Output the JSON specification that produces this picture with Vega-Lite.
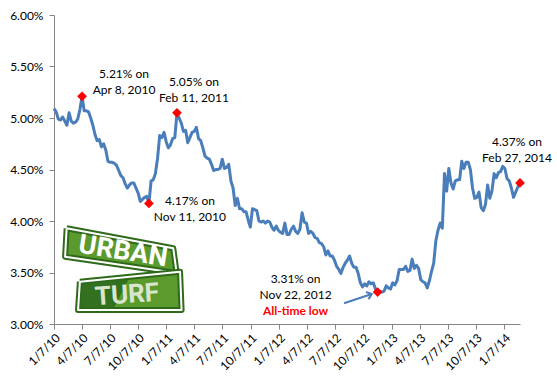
{
  "$schema": "https://vega.github.io/schema/vega-lite/v6.json",
  "width": 466,
  "height": 309,
  "autosize": {"type": "none"},
  "padding": {"left": 54, "top": 15, "right": 37, "bottom": 60},
  "background": "white",
  "config": {
    "view": {"stroke": null},
    "font": "Lato",
    "axis": {
      "grid": false,
      "title": null,
      "domainColor": "#868686",
      "tickColor": "#868686",
      "tickSize": 5,
      "labelFont": "Lato",
      "labelFontSize": 12,
      "labelColor": "#000000"
    }
  },
  "datasets": {
    "rates": [
      {"d":"2010-01-07","r":5.09},{"d":"2010-01-14","r":5.06},{"d":"2010-01-21","r":4.99},{"d":"2010-01-28","r":4.98},
      {"d":"2010-02-04","r":5.01},{"d":"2010-02-11","r":4.97},{"d":"2010-02-18","r":4.93},{"d":"2010-02-25","r":5.05},
      {"d":"2010-03-04","r":4.97},{"d":"2010-03-11","r":4.95},{"d":"2010-03-18","r":4.96},{"d":"2010-03-25","r":4.99},
      {"d":"2010-04-01","r":5.08},{"d":"2010-04-08","r":5.21},{"d":"2010-04-15","r":5.07},{"d":"2010-04-22","r":5.07},{"d":"2010-04-29","r":5.06},
      {"d":"2010-05-06","r":5.00},{"d":"2010-05-13","r":4.93},{"d":"2010-05-20","r":4.84},{"d":"2010-05-27","r":4.78},
      {"d":"2010-06-03","r":4.79},{"d":"2010-06-10","r":4.72},{"d":"2010-06-17","r":4.75},{"d":"2010-06-24","r":4.69},
      {"d":"2010-07-01","r":4.58},{"d":"2010-07-08","r":4.57},{"d":"2010-07-15","r":4.57},{"d":"2010-07-22","r":4.56},{"d":"2010-07-29","r":4.54},
      {"d":"2010-08-05","r":4.49},{"d":"2010-08-12","r":4.44},{"d":"2010-08-19","r":4.42},{"d":"2010-08-26","r":4.36},
      {"d":"2010-09-02","r":4.32},{"d":"2010-09-09","r":4.35},{"d":"2010-09-16","r":4.37},{"d":"2010-09-23","r":4.37},{"d":"2010-09-30","r":4.32},
      {"d":"2010-10-07","r":4.27},{"d":"2010-10-14","r":4.19},{"d":"2010-10-21","r":4.21},{"d":"2010-10-28","r":4.23},
      {"d":"2010-11-04","r":4.24},{"d":"2010-11-11","r":4.17},{"d":"2010-11-18","r":4.39},{"d":"2010-11-25","r":4.40},
      {"d":"2010-12-02","r":4.46},{"d":"2010-12-09","r":4.61},{"d":"2010-12-16","r":4.83},{"d":"2010-12-23","r":4.81},{"d":"2010-12-30","r":4.86},
      {"d":"2011-01-06","r":4.77},{"d":"2011-01-13","r":4.71},{"d":"2011-01-20","r":4.74},{"d":"2011-01-27","r":4.80},
      {"d":"2011-02-03","r":4.81},{"d":"2011-02-10","r":5.05},{"d":"2011-02-17","r":5.00},{"d":"2011-02-24","r":4.95},
      {"d":"2011-03-03","r":4.87},{"d":"2011-03-10","r":4.88},{"d":"2011-03-17","r":4.76},{"d":"2011-03-24","r":4.81},{"d":"2011-03-31","r":4.86},
      {"d":"2011-04-07","r":4.87},{"d":"2011-04-14","r":4.91},{"d":"2011-04-21","r":4.80},{"d":"2011-04-28","r":4.78},
      {"d":"2011-05-05","r":4.71},{"d":"2011-05-12","r":4.63},{"d":"2011-05-19","r":4.61},{"d":"2011-05-26","r":4.60},
      {"d":"2011-06-02","r":4.55},{"d":"2011-06-09","r":4.49},{"d":"2011-06-16","r":4.50},{"d":"2011-06-23","r":4.50},{"d":"2011-06-30","r":4.51},
      {"d":"2011-07-07","r":4.60},{"d":"2011-07-14","r":4.51},{"d":"2011-07-21","r":4.52},{"d":"2011-07-28","r":4.55},
      {"d":"2011-08-04","r":4.39},{"d":"2011-08-11","r":4.32},{"d":"2011-08-18","r":4.15},{"d":"2011-08-25","r":4.22},
      {"d":"2011-09-01","r":4.12},{"d":"2011-09-08","r":4.12},{"d":"2011-09-15","r":4.09},{"d":"2011-09-22","r":4.09},{"d":"2011-09-29","r":4.01},
      {"d":"2011-10-06","r":3.94},{"d":"2011-10-13","r":4.12},{"d":"2011-10-20","r":4.11},{"d":"2011-10-27","r":4.10},
      {"d":"2011-11-03","r":4.00},{"d":"2011-11-10","r":3.99},{"d":"2011-11-17","r":4.00},{"d":"2011-11-24","r":3.98},
      {"d":"2011-12-01","r":4.00},{"d":"2011-12-08","r":3.99},{"d":"2011-12-15","r":3.94},{"d":"2011-12-22","r":3.91},{"d":"2011-12-29","r":3.95},
      {"d":"2012-01-05","r":3.91},{"d":"2012-01-12","r":3.89},{"d":"2012-01-19","r":3.88},{"d":"2012-01-26","r":3.98},
      {"d":"2012-02-02","r":3.87},{"d":"2012-02-09","r":3.87},{"d":"2012-02-16","r":3.92},{"d":"2012-02-23","r":3.95},
      {"d":"2012-03-01","r":3.90},{"d":"2012-03-08","r":3.88},{"d":"2012-03-15","r":3.92},{"d":"2012-03-22","r":4.08},{"d":"2012-03-29","r":3.99},
      {"d":"2012-04-05","r":3.98},{"d":"2012-04-12","r":3.88},{"d":"2012-04-19","r":3.90},{"d":"2012-04-26","r":3.88},
      {"d":"2012-05-03","r":3.84},{"d":"2012-05-10","r":3.83},{"d":"2012-05-17","r":3.79},{"d":"2012-05-24","r":3.78},{"d":"2012-05-31","r":3.75},
      {"d":"2012-06-07","r":3.67},{"d":"2012-06-14","r":3.71},{"d":"2012-06-21","r":3.66},{"d":"2012-06-28","r":3.66},
      {"d":"2012-07-05","r":3.62},{"d":"2012-07-12","r":3.56},{"d":"2012-07-19","r":3.53},{"d":"2012-07-26","r":3.49},
      {"d":"2012-08-02","r":3.55},{"d":"2012-08-09","r":3.59},{"d":"2012-08-16","r":3.62},{"d":"2012-08-23","r":3.66},{"d":"2012-08-30","r":3.59},
      {"d":"2012-09-06","r":3.55},{"d":"2012-09-13","r":3.55},{"d":"2012-09-20","r":3.49},{"d":"2012-09-27","r":3.40},
      {"d":"2012-10-04","r":3.36},{"d":"2012-10-11","r":3.39},{"d":"2012-10-18","r":3.37},{"d":"2012-10-25","r":3.41},
      {"d":"2012-11-01","r":3.39},{"d":"2012-11-08","r":3.40},{"d":"2012-11-15","r":3.34},{"d":"2012-11-22","r":3.31},{"d":"2012-11-29","r":3.32},
      {"d":"2012-12-06","r":3.31},{"d":"2012-12-13","r":3.32},{"d":"2012-12-20","r":3.37},{"d":"2012-12-27","r":3.35},
      {"d":"2013-01-03","r":3.34},{"d":"2013-01-10","r":3.40},{"d":"2013-01-17","r":3.38},{"d":"2013-01-24","r":3.42},{"d":"2013-01-31","r":3.53},
      {"d":"2013-02-07","r":3.53},{"d":"2013-02-14","r":3.53},{"d":"2013-02-21","r":3.56},{"d":"2013-02-28","r":3.51},
      {"d":"2013-03-07","r":3.52},{"d":"2013-03-14","r":3.63},{"d":"2013-03-21","r":3.54},{"d":"2013-03-28","r":3.57},
      {"d":"2013-04-04","r":3.54},{"d":"2013-04-11","r":3.43},{"d":"2013-04-18","r":3.41},{"d":"2013-04-25","r":3.40},
      {"d":"2013-05-02","r":3.35},{"d":"2013-05-09","r":3.42},{"d":"2013-05-16","r":3.51},{"d":"2013-05-23","r":3.59},{"d":"2013-05-30","r":3.81},
      {"d":"2013-06-06","r":3.91},{"d":"2013-06-13","r":3.98},{"d":"2013-06-20","r":3.93},{"d":"2013-06-27","r":4.46},
      {"d":"2013-07-04","r":4.29},{"d":"2013-07-11","r":4.51},{"d":"2013-07-18","r":4.37},{"d":"2013-07-25","r":4.31},
      {"d":"2013-08-01","r":4.39},{"d":"2013-08-08","r":4.40},{"d":"2013-08-15","r":4.40},{"d":"2013-08-22","r":4.58},{"d":"2013-08-29","r":4.51},
      {"d":"2013-09-05","r":4.57},{"d":"2013-09-12","r":4.57},{"d":"2013-09-19","r":4.50},{"d":"2013-09-26","r":4.32},
      {"d":"2013-10-03","r":4.22},{"d":"2013-10-10","r":4.23},{"d":"2013-10-17","r":4.28},{"d":"2013-10-24","r":4.13},{"d":"2013-10-31","r":4.10},
      {"d":"2013-11-07","r":4.16},{"d":"2013-11-14","r":4.35},{"d":"2013-11-21","r":4.22},{"d":"2013-11-28","r":4.29},
      {"d":"2013-12-05","r":4.46},{"d":"2013-12-12","r":4.42},{"d":"2013-12-19","r":4.47},{"d":"2013-12-26","r":4.48},
      {"d":"2014-01-02","r":4.53},{"d":"2014-01-09","r":4.51},{"d":"2014-01-16","r":4.41},{"d":"2014-01-23","r":4.39},{"d":"2014-01-30","r":4.32},
      {"d":"2014-02-06","r":4.23},{"d":"2014-02-13","r":4.28},{"d":"2014-02-20","r":4.33},{"d":"2014-02-27","r":4.37}
    ],
    "hl": [
      {"k":1,"d":"2010-04-08","r":5.21,"t":"5.21% on\nApr 8, 2010"},
      {"k":2,"d":"2011-02-10","r":5.05,"t":"5.05% on\nFeb 11, 2011"},
      {"k":3,"d":"2010-11-11","r":4.17,"t":"4.17% on\nNov 11, 2010"},
      {"k":4,"d":"2012-11-22","r":3.31,"t":"3.31% on\nNov 22, 2012"},
      {"k":5,"d":"2014-02-27","r":4.37,"t":"4.37% on\nFeb 27, 2014"}
    ],
    "logo": [
      {"s":"urban","i":0,"d":"2010-02-17","r":3.929},
      {"s":"urban","i":1,"d":"2011-01-29","r":3.735},
      {"s":"urban","i":2,"d":"2011-02-09","r":3.495},
      {"s":"urban","i":3,"d":"2010-02-12","r":3.653},
      {"s":"urban","i":4,"d":"2010-02-17","r":3.929},
      {"s":"turf","i":0,"d":"2010-04-01","r":3.411},
      {"s":"turf","i":1,"d":"2011-02-20","r":3.508},
      {"s":"turf","i":2,"d":"2011-02-25","r":3.136},
      {"s":"turf","i":3,"d":"2010-03-26","r":3.136},
      {"s":"turf","i":4,"d":"2010-04-01","r":3.411},
      {"s":"shade","i":0,"d":"2010-04-01","r":3.411},
      {"s":"shade","i":1,"d":"2010-09-10","r":3.459},
      {"s":"shade","i":2,"d":"2010-07-17","r":3.136},
      {"s":"shade","i":3,"d":"2010-03-26","r":3.136},
      {"s":"shade","i":4,"d":"2010-04-01","r":3.411}
    ],
    "logotext": [
      {"k":"u","d":"2010-08-19","r":3.704,"t":"URBAN"},
      {"k":"t","d":"2010-09-01","r":3.282,"t":"TURF"}
    ],
    "arrow": [
      {"d":"2012-08-05","r":3.201,"d2":"2012-11-03","r2":3.291}
    ]
  },
  "encoding": {
    "x": {
      "field": "d",
      "type": "temporal",
      "scale": {
        "type": "utc",
        "domain": [{"year":2010,"month":1,"date":7,"utc":true},{"year":2014,"month":2,"date":27,"utc":true}]
      },
      "axis": {
        "values": [
          {"year":2010,"month":1,"date":7,"utc":true},{"year":2010,"month":4,"date":7,"utc":true},{"year":2010,"month":7,"date":7,"utc":true},{"year":2010,"month":10,"date":7,"utc":true},
          {"year":2011,"month":1,"date":7,"utc":true},{"year":2011,"month":4,"date":7,"utc":true},{"year":2011,"month":7,"date":7,"utc":true},{"year":2011,"month":10,"date":7,"utc":true},
          {"year":2012,"month":1,"date":7,"utc":true},{"year":2012,"month":4,"date":7,"utc":true},{"year":2012,"month":7,"date":7,"utc":true},{"year":2012,"month":10,"date":7,"utc":true},
          {"year":2013,"month":1,"date":7,"utc":true},{"year":2013,"month":4,"date":7,"utc":true},{"year":2013,"month":7,"date":7,"utc":true},{"year":2013,"month":10,"date":7,"utc":true},
          {"year":2014,"month":1,"date":7,"utc":true}
        ],
        "labelExpr": "utcFormat(datum.value, '%-m/%-d/%y')",
        "labelAngle": -45,
        "labelPadding": 3,
        "labelOverlap": false,
        "labelFlush": false
      }
    },
    "y": {
      "field": "r",
      "type": "quantitative",
      "scale": {"domain": [3, 6], "nice": false, "zero": false},
      "axis": {
        "values": [3, 3.5, 4, 4.5, 5, 5.5, 6],
        "labelExpr": "format(datum.value, '.2f') + '%'",
        "labelPadding": 6
      }
    }
  },
  "layer": [
    {
      "data": {"name": "logo"},
      "transform": [{"filter": "datum.s == 'urban'"}],
      "mark": {"type": "line", "fill": "#5b9a2c", "stroke": "#2f6a1a", "strokeWidth": 6, "strokeJoin": "round"},
      "encoding": {"order": {"field": "i", "type": "quantitative"}}
    },
    {
      "data": {"name": "logo"},
      "transform": [{"filter": "datum.s == 'urban'"}],
      "mark": {"type": "line", "stroke": "#ffffff", "strokeWidth": 2, "strokeJoin": "round"},
      "encoding": {"order": {"field": "i", "type": "quantitative"}}
    },
    {
      "data": {"name": "logo"},
      "transform": [{"filter": "datum.s == 'turf'"}],
      "mark": {"type": "line", "fill": "#5b9a2c", "stroke": "#2f6a1a", "strokeWidth": 6, "strokeJoin": "round"},
      "encoding": {"order": {"field": "i", "type": "quantitative"}}
    },
    {
      "data": {"name": "logo"},
      "transform": [{"filter": "datum.s == 'shade'"}],
      "mark": {"type": "line", "fill": "#2f6b1e", "strokeWidth": 0, "fillOpacity": 0.9},
      "encoding": {"order": {"field": "i", "type": "quantitative"}}
    },
    {
      "data": {"name": "logo"},
      "transform": [{"filter": "datum.s == 'turf'"}],
      "mark": {"type": "line", "stroke": "#ffffff", "strokeWidth": 2, "strokeJoin": "round"},
      "encoding": {"order": {"field": "i", "type": "quantitative"}}
    },
    {
      "data": {"name": "logotext"},
      "transform": [{"filter": "datum.k == 'u'"}],
      "mark": {"type": "text", "font": "Roboto", "fontWeight": "bold", "fontSize": 27, "fill": "#ffffff", "angle": 9, "align": "center", "baseline": "middle"},
      "encoding": {"text": {"field": "t"}}
    },
    {
      "data": {"name": "logotext"},
      "transform": [{"filter": "datum.k == 't'"}],
      "mark": {"type": "text", "font": "Roboto", "fontWeight": "bold", "fontSize": 26, "fill": "#d9e6cf", "angle": -4, "align": "center", "baseline": "middle"},
      "encoding": {"text": {"field": "t"}}
    },
    {
      "data": {"name": "rates"},
      "mark": {"type": "line", "color": "#4a7ebb", "strokeWidth": 3, "strokeJoin": "round"}
    },
    {
      "data": {"name": "arrow", "format": {"parse": {"d2": "date"}}},
      "mark": {"type": "rule", "color": "#4a7ebb", "strokeWidth": 2},
      "encoding": {
        "x2": {"field": "d2"},
        "y2": {"field": "r2"}
      }
    },
    {
      "data": {"name": "arrow"},
      "mark": {"type": "point", "shape": "M -1 -0.8 L 0 0 L -1 0.8", "filled": false, "stroke": "#4a7ebb", "strokeWidth": 2, "size": 90, "angle": -19, "opacity": 1},
      "encoding": {
        "x": {"field": "d2", "type": "temporal"},
        "y": {"field": "r2", "type": "quantitative"}
      }
    },
    {
      "data": {"name": "hl"},
      "mark": {"type": "point", "shape": "diamond", "filled": true, "color": "#ff0000", "size": 95, "opacity": 1}
    },
    {
      "data": {"name": "hl"},
      "transform": [{"filter": "datum.k == 1"}],
      "mark": {"type": "text", "lineBreak": "\n", "lineHeight": 16, "fontSize": 12, "fill": "#000000", "align": "center", "baseline": "middle", "dx": 42, "dy": -22},
      "encoding": {"text": {"field": "t"}}
    },
    {
      "data": {"name": "hl"},
      "transform": [{"filter": "datum.k == 2"}],
      "mark": {"type": "text", "lineBreak": "\n", "lineHeight": 16, "fontSize": 12, "fill": "#000000", "align": "center", "baseline": "middle", "dx": 17, "dy": -31},
      "encoding": {"text": {"field": "t"}}
    },
    {
      "data": {"name": "hl"},
      "transform": [{"filter": "datum.k == 3"}],
      "mark": {"type": "text", "lineBreak": "\n", "lineHeight": 16, "fontSize": 12, "fill": "#000000", "align": "center", "baseline": "middle", "dx": 41, "dy": -2},
      "encoding": {"text": {"field": "t"}}
    },
    {
      "data": {"name": "hl"},
      "transform": [{"filter": "datum.k == 4"}],
      "mark": {"type": "text", "lineBreak": "\n", "lineHeight": 16, "fontSize": 12, "fill": "#000000", "align": "center", "baseline": "middle", "dx": -82, "dy": -13},
      "encoding": {"text": {"field": "t"}}
    },
    {
      "data": {"name": "hl"},
      "transform": [{"filter": "datum.k == 4"}],
      "mark": {"type": "text", "fontSize": 12, "fontWeight": "bold", "fill": "#ff0000", "align": "center", "baseline": "middle", "dx": -82, "dy": 19},
      "encoding": {"text": {"value": "All-time low"}}
    },
    {
      "data": {"name": "hl"},
      "transform": [{"filter": "datum.k == 5"}],
      "mark": {"type": "text", "lineBreak": "\n", "lineHeight": 16, "fontSize": 12, "fill": "#000000", "align": "center", "baseline": "middle", "dx": -3, "dy": -41},
      "encoding": {"text": {"field": "t"}}
    }
  ]
}
